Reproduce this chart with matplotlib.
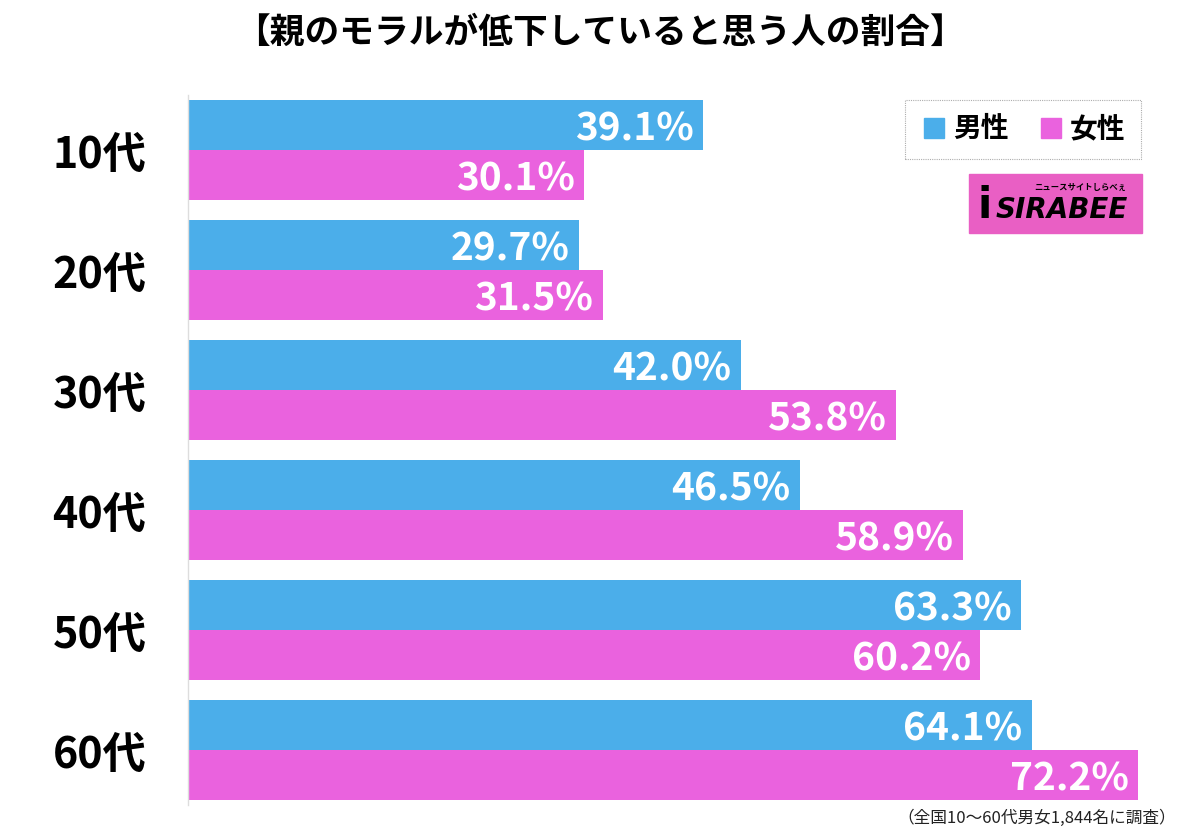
import matplotlib
matplotlib.use("Agg")
import matplotlib.pyplot as plt
from matplotlib.patches import Rectangle
from matplotlib.lines import Line2D
import numpy as np

plt.rcParams['font.family'] = ['Noto Sans CJK JP', 'DejaVu Sans']

# data
ages = ["10代", "20代", "30代", "40代", "50代", "60代"]
male = [39.1, 29.7, 42.0, 46.5, 63.3, 64.1]
female = [30.1, 31.5, 53.8, 58.9, 60.2, 72.2]
legend_labels = ["男性", "女性"]

blue = "#4BAEEA"
pink = "#EA62DE"

fig = plt.figure(figsize=(12, 8.35), dpi=100)
ax = fig.add_axes([188 / 1200, 1 - 805 / 835, 962 / 1200, 710 / 835])

y = np.arange(len(ages))
h = 50 / 120
ax.barh(y - h / 2, male, height=h, color=blue)
ax.barh(y + h / 2, female, height=h, color=pink)

for yi, v in zip(y, male):
    ax.text(v - 0.7, yi - h / 2, f"{v:.1f}%", ha="right", va="center_baseline",
            color="white", fontsize=28, fontweight="bold")
for yi, v in zip(y, female):
    ax.text(v - 0.7, yi + h / 2, f"{v:.1f}%", ha="right", va="center_baseline",
            color="white", fontsize=28, fontweight="bold")

ax.set_xlim(0, 962 / 13.16)
ax.set_ylim((805 - 150) / 120, (95 - 150) / 120)
ax.set_yticks(y)
ax.set_yticklabels(ages, fontsize=31, fontweight="bold")
ax.tick_params(axis="y", length=0, pad=30)
ax.set_xticks([])
for s in ["top", "right", "bottom"]:
    ax.spines[s].set_visible(False)
ax.spines["left"].set_color("#dddddd")
ax.spines["left"].set_linewidth(1)

fig.text(0.5, 1 - 32 / 835, "【親のモラルが低下していると思う人の割合】",
         ha="center", va="center", fontsize=25, fontweight="bold")

# legend
handles = [Line2D([], [], marker="s", color=c, linestyle="none", markersize=14)
           for c in (blue, pink)]
leg = fig.legend(handles, legend_labels, loc="upper right",
                 bbox_to_anchor=(1141 / 1200, 1 - 100 / 835), ncol=2,
                 prop={"size": 20, "weight": "bold"}, frameon=True,
                 fancybox=False, handletextpad=0.2, columnspacing=1.0,
                 borderpad=0.55, handlelength=1.0, borderaxespad=0)
leg.get_frame().set_edgecolor("#999999")
leg.get_frame().set_linestyle((0, (1, 1)))
leg.get_frame().set_linewidth(0.8)

# logo
fig.patches.append(Rectangle((969 / 1200, 1 - 233 / 835), 173 / 1200, 59 / 835,
                             transform=fig.transFigure, color="#E95FC4"))
fig.text(1062 / 1200, 1 - 210 / 835, "SIRABEE", ha="center", va="center",
         fontsize=20, fontweight="bold", style="italic", color="black",
         family="DejaVu Sans")
fig.text(1080 / 1200, 1 - 187 / 835, "ニュースサイトしらべぇ", ha="center",
         va="center", fontsize=6, fontweight="bold", color="black")
fig.text(985 / 1200, 1 - 206 / 835, "i", ha="center", va="center",
         fontsize=30, fontweight="bold", color="black", family="DejaVu Sans")

fig.text(1176 / 1200, 1 - 818 / 835, "（全国10〜60代男女1,844名に調査）",
         ha="right", va="center", fontsize=12, color="#222222")

fig.savefig("out.png", dpi=100, facecolor="white")
